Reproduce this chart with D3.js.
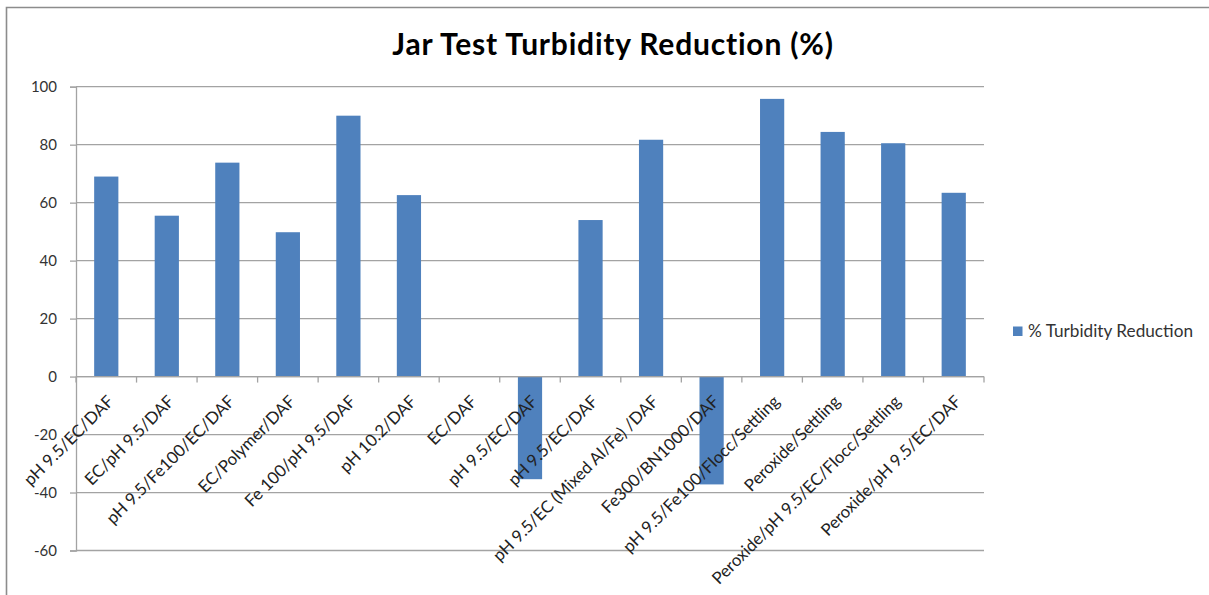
<!DOCTYPE html>
<html>
<head>
<meta charset="utf-8">
<script src="https://cdn.jsdelivr.net/npm/d3@7"></script>
<style>
  html, body { margin: 0; padding: 0; background: #fff; }
  svg { display: block; }
  text { font-family: Lato, "Open Sans", sans-serif; }
</style>
</head>
<body>
<svg id="chart" width="1209" height="595"></svg>
<script>
// Jar test treatments and their turbidity reduction (%)
const categories = [
  "pH 9.5/EC/DAF",
  "EC/pH 9.5/DAF",
  "pH 9.5/Fe100/EC/DAF",
  "EC/Polymer/DAF",
  "Fe 100/pH 9.5/DAF",
  "pH 10.2/DAF",
  "EC/DAF",
  "pH 9.5/EC/DAF ",
  "pH 9.5/EC/DAF  ",
  "pH 9.5/EC (Mixed Al/Fe) /DAF",
  "Fe300/BN1000/DAF",
  "pH 9.5/Fe100/Flocc/Settling",
  "Peroxide/Settling",
  "Peroxide/pH 9.5/EC/Flocc/Settling",
  "Peroxide/pH 9.5/EC/DAF"
];
const turbidityReduction = [69, 55.5, 73.8, 49.8, 90, 62.6, 0, -35.4, 54, 81.7, -37.2, 95.8, 84.4, 80.5, 63.4];
const yTicks = [-60, -40, -20, 0, 20, 40, 60, 80, 100];
const seriesName = "% Turbidity Reduction";
const chartTitle = "Jar Test Turbidity Reduction (%)";

const svg = d3.select("#chart");
const barColor = "#4f81bd";
const gridColor = "#a3a3a3";

const plot = { left: 76, right: 984, top: 86.7, bottom: 550.5 };

const x = d3.scaleBand()
  .domain(categories)
  .range([plot.left, plot.right])
  .paddingInner(0.6)
  .paddingOuter(0.3);

const y = d3.scaleLinear()
  .domain([-60, 100])
  .range([plot.bottom, plot.top]);

// chart area border (left and top edges)
svg.append("path")
  .attr("d", `M6.5,595 V7.5 H1209`)
  .attr("fill", "none")
  .attr("stroke", "#8c8c8c")
  .attr("stroke-width", 1.6);

// title
svg.append("text")
  .attr("x", 613)
  .attr("y", 55)
  .attr("text-anchor", "middle")
  .attr("font-size", 30)
  .attr("font-weight", "bold")
  .attr("letter-spacing", 0.8)
  .attr("fill", "#000")
  .text(chartTitle);

// horizontal gridlines
svg.append("g")
  .selectAll("line")
  .data(yTicks)
  .join("line")
  .attr("x1", plot.left)
  .attr("x2", plot.right)
  .attr("y1", d => y(d))
  .attr("y2", d => y(d))
  .attr("stroke", gridColor)
  .attr("stroke-width", 1.3);

// y axis
const yAxis = d3.axisLeft(y)
  .tickValues(yTicks)
  .tickSize(6)
  .tickPadding(13)
  .tickFormat(d => String(d));

const gy = svg.append("g")
  .attr("transform", `translate(${plot.left},0)`)
  .call(yAxis);
gy.select(".domain").attr("stroke", gridColor).attr("stroke-width", 1.3);
gy.selectAll(".tick line").attr("stroke", gridColor).attr("stroke-width", 1.3);
gy.selectAll(".tick text")
  .attr("font-family", "Lato, 'Open Sans', sans-serif")
  .attr("font-size", 15)
  .attr("fill", "#333");

// bars
svg.append("g")
  .selectAll("rect")
  .data(categories.map((c, i) => ({ c, v: turbidityReduction[i] })))
  .join("rect")
  .attr("x", d => x(d.c))
  .attr("width", x.bandwidth())
  .attr("y", d => y(Math.max(0, d.v)))
  .attr("height", d => Math.abs(y(d.v) - y(0)))
  .attr("fill", barColor);

// category axis at zero
const step = x.step();
const boundaries = d3.range(categories.length + 1).map(i => plot.left + i * step);
const gx = svg.append("g");
gx.append("line")
  .attr("x1", plot.left).attr("x2", plot.right)
  .attr("y1", y(0)).attr("y2", y(0))
  .attr("stroke", gridColor).attr("stroke-width", 1.3);
gx.selectAll("line.tick")
  .data(boundaries)
  .join("line")
  .attr("class", "tick")
  .attr("x1", d => d).attr("x2", d => d)
  .attr("y1", y(0)).attr("y2", y(0) + 6)
  .attr("stroke", gridColor).attr("stroke-width", 1.3);

// rotated category labels
gx.selectAll("text")
  .data(categories)
  .join("text")
  .attr("transform", d => `translate(${x(d) + x.bandwidth() / 2 + 8.5},${y(0) + 26}) rotate(-45)`)
  .attr("text-anchor", "end")
  .attr("font-size", 16.8)
  .attr("fill", "#222")
  .text(d => d.trim());

// legend
const legend = svg.append("g").attr("transform", "translate(1013,326.5)");
legend.append("rect")
  .attr("width", 9.5).attr("height", 9.5)
  .attr("fill", barColor);
legend.append("text")
  .attr("x", 15)
  .attr("y", 10)
  .attr("font-size", 17.2)
  .attr("fill", "#333")
  .text(seriesName);
</script>
</body>
</html>
